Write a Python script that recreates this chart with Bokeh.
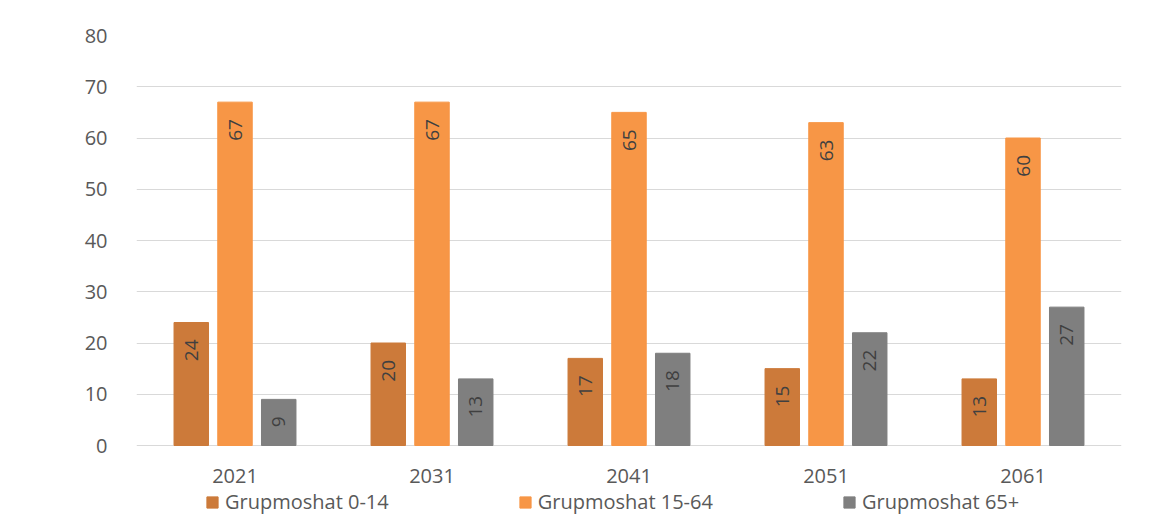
from math import pi
from bokeh.plotting import figure
from bokeh.models import ColumnDataSource, LabelSet, Legend, LegendItem, FixedTicker, Range1d
from bokeh.transform import dodge
from bokeh.core.properties import value
from bokeh.embed import file_html
from bokeh.resources import INLINE

years = ["2021", "2031", "2041", "2051", "2061"]
g0_14 = [24, 20, 17, 15, 13]
g15_64 = [67, 67, 65, 63, 60]
g65 = [9, 13, 18, 22, 27]
series_names = ["Grupmoshat 0-14", "Grupmoshat 15-64", "Grupmoshat 65+"]
colors = ["#CC7A3A", "#F79646", "#7F7F7F"]
y_ticks = [0, 10, 20, 30, 40, 50, 60, 70, 80]

FONT = "Open Sans"
TXT = "#595959"

# frame extends below zero so that the category labels and legend sit inside it
PX_PER_UNIT = 410 / 80
FRAME_H = 485
Y_MIN = 80 - FRAME_H / PX_PER_UNIT

src = ColumnDataSource(data=dict(
    year=years, base=[0] * len(years),
    s0=g0_14, s1=g15_64, s2=g65,
    l0=[str(v) for v in g0_14], l1=[str(v) for v in g15_64], l2=[str(v) for v in g65],
))

p = figure(x_range=years, y_range=Range1d(Y_MIN, 80),
           frame_width=985, frame_height=FRAME_H,
           min_border_left=136, min_border_right=42, min_border_top=35, min_border_bottom=4,
           output_backend="svg", toolbar_location=None)

p.outline_line_color = None
p.xgrid.grid_line_color = None
p.ygrid.grid_line_color = "#D9D9D9"
p.ygrid.grid_line_width = 1
p.ygrid.ticker = FixedTicker(ticks=y_ticks)
p.yaxis.ticker = FixedTicker(ticks=y_ticks)
p.xaxis.visible = False

ax = p.yaxis[0]
ax.axis_line_color = None
ax.major_tick_line_color = None
ax.minor_tick_line_color = None
ax.major_label_text_font = FONT
ax.major_label_text_font_size = "20px"
ax.major_label_text_color = TXT
ax.major_label_standoff = 23

# category labels under the bars
cat_labels = LabelSet(x="year", y="base", text="year", source=src,
                      text_align="center", text_baseline="middle", y_offset=-30,
                      text_font=value(FONT), text_font_size="20px", text_color=TXT)
p.add_layout(cat_labels)

offsets = [-0.222, 0.0, 0.222]
renderers = []
for i in range(3):
    r = p.vbar(x=dodge("year", offsets[i], range=p.x_range), top="s%d" % i, bottom=0, width=0.175,
               source=src, fill_color=colors[i], line_color=colors[i])
    renderers.append(r)
    lbl = LabelSet(x=dodge("year", offsets[i], range=p.x_range), y="s%d" % i, text="l%d" % i,
                   source=src, angle=pi / 2, text_align="right", text_baseline="middle",
                   y_offset=-17, text_font=value(FONT), text_font_size="19px",
                   text_color="#404040")
    p.add_layout(lbl)

legend = Legend(items=[LegendItem(label=series_names[i], renderers=[renderers[i]]) for i in range(3)],
                orientation="horizontal", location=(69, 5),
                glyph_width=14, glyph_height=14, label_standoff=6, spacing=129,
                label_text_font=FONT, label_text_font_size="20px", label_text_color=TXT,
                border_line_color=None, background_fill_alpha=0, margin=0, padding=0)
p.add_layout(legend, "center")

open("out.html", "w").write(file_html(p, INLINE))
